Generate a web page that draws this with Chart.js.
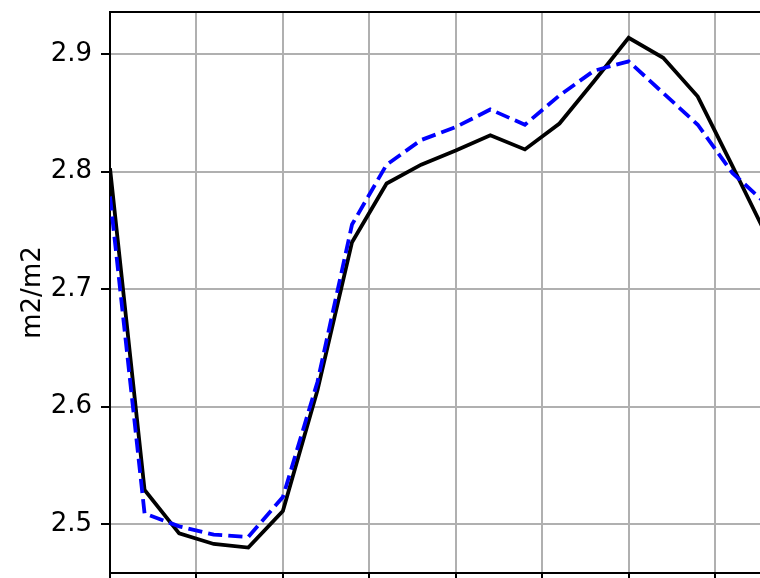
<!DOCTYPE html>
<html>
<head>
<meta charset="utf-8">
<script src="https://cdn.jsdelivr.net/npm/chart.js@4.4.0/dist/chart.umd.min.js"></script>
<style>
    html, body { margin: 0; padding: 0; background: #fff; }
    #box { width: 760px; height: 578px; }
</style>
</head>
<body>
<div id="box"><canvas id="cv" width="760" height="578"></canvas></div>
<script>
// x positions (time steps)
var steps = [0, 1, 2, 3, 4, 5, 6, 7, 8, 9, 10, 11, 12, 13, 14, 15, 16, 17, 18, 19];

// solid black series
var blackVals = [2.803, 2.529, 2.492, 2.483, 2.480, 2.511, 2.614, 2.740, 2.790, 2.806,
                 2.818, 2.831, 2.819, 2.841, 2.877, 2.914, 2.897, 2.864, 2.805, 2.745];

// dashed blue series
var blueVals = [2.779, 2.509, 2.498, 2.491, 2.489, 2.523, 2.621, 2.755, 2.806, 2.827,
                2.838, 2.853, 2.840, 2.865, 2.886, 2.894, 2.867, 2.840, 2.799, 2.772];

// tick labels / grid positions
var yTicks = [2.5, 2.6, 2.7, 2.8, 2.9];
var xTicks = [0, 2.5, 5, 7.5, 10, 12.5, 15, 17.5];

var yTitle = 'm2/m2';

var FONT = { family: 'DejaVu Sans', size: 26 };

/**
 * zip x,y arrays to points
 */
function toPoints(xs, ys) {
    var pts = [];
    for (var i = 0; i < ys.length; i++) {
        pts.push({ x: xs[i], y: ys[i] });
    }
    return pts;
}

// top spine (matplotlib box)
var topSpine = {
    id: 'topSpine',
    afterDraw: function (chart) {
        var a = chart.chartArea, ctx = chart.ctx;
        ctx.save();
        ctx.strokeStyle = '#000';
        ctx.lineWidth = 2;
        ctx.beginPath();
        ctx.moveTo(a.left - 1, a.top);
        ctx.lineTo(a.right + 1, a.top);
        ctx.stroke();
        ctx.restore();
    }
};

new Chart(document.getElementById('cv'), {
    type: 'line',
    data: {
        datasets: [{
            data: toPoints(steps, blueVals),
            borderColor: '#0000ff',
            borderWidth: 3.8,
            borderDash: [14.2, 6.1],
            pointRadius: 0,
            tension: 0,
            fill: false,
            order: 0
        }, {
            data: toPoints(steps, blackVals),
            borderColor: '#000000',
            borderWidth: 3.8,
            pointRadius: 0,
            tension: 0,
            fill: false,
            order: 1
        }]
    },
    options: {
        responsive: false,
        animation: false,
        layout: { padding: { top: 12, left: 0, right: 0, bottom: 0 } },
        plugins: {
            legend: { display: false },
            tooltip: { enabled: false }
        },
        scales: {
            x: {
                type: 'linear',
                min: 0,
                max: 18.8,
                afterBuildTicks: function (s) {
                    s.ticks = xTicks.map(function (v) { return { value: v }; });
                },
                afterFit: function (s) {
                    s.height = 5;
                    s.paddingLeft = 0; s.paddingRight = 0;
                },
                ticks: { display: false },
                grid: {
                    color: '#b0b0b0',
                    lineWidth: 2,
                    tickColor: '#000',
                    tickWidth: 2,
                    tickLength: 9
                },
                border: { color: '#000', width: 2 }
            },
            y: {
                min: 2.4583,
                max: 2.936,
                afterBuildTicks: function (s) {
                    s.ticks = yTicks.map(function (v) { return { value: v }; });
                },
                afterFit: function (s) {
                    s.width = 110;
                    s.paddingTop = 0; s.paddingBottom = 0;
                },
                ticks: {
                    color: '#000',
                    font: FONT,
                    padding: 9,
                    callback: function (v) { return v.toFixed(1); }
                },
                title: {
                    display: true,
                    text: yTitle,
                    color: '#000',
                    font: FONT,
                    padding: { top: 18, bottom: 0 }
                },
                grid: {
                    color: '#b0b0b0',
                    lineWidth: 2,
                    tickColor: '#000',
                    tickWidth: 2,
                    tickLength: 9
                },
                border: { color: '#000', width: 2 }
            }
        }
    },
    plugins: [topSpine]
});
</script>
</body>
</html>
